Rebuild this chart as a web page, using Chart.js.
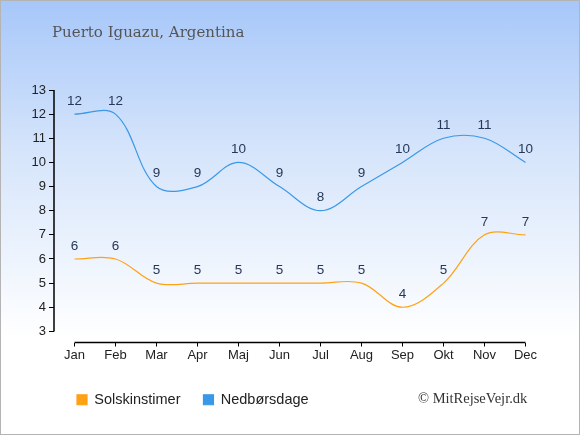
<!DOCTYPE html>
<html>
<head>
<meta charset="utf-8">
<script src="https://cdn.jsdelivr.net/npm/chart.js@4"></script>
<style>
  html, body { margin: 0; padding: 0; }
  #wrap {
    position: relative;
    width: 578px; height: 433px;
    border: 1px solid #b4b4b4;
    background: linear-gradient(to bottom, #a7c7f9 0%, #d6e5fb 35%, #ffffff 78%, #ffffff 100%);
  }
  #title {
    position: absolute; left: 51px; top: 22px;
    font-family: "DejaVu Serif", serif; font-size: 15px; color: #555;
  }
  #copy {
    position: absolute; left: 417px; top: 389px;
    font-family: "Liberation Serif", serif; font-size: 14.5px; color: #333;
  }
  canvas { position: absolute; left: 0; top: 0; }
</style>
</head>
<body>
<div id="wrap">
  <canvas id="myChart" width="578" height="433"></canvas>
  <div id="title">Puerto Iguazu, Argentina</div>
  <div id="copy">© MitRejseVejr.dk</div>
</div>
<script>
"use strict";
const months = ["Jan", "Feb", "Mar", "Apr", "Maj", "Jun", "Jul", "Aug", "Sep", "Okt", "Nov", "Dec"];
const sunHours = [6, 6, 5, 5, 5, 5, 5, 5, 4, 5, 7, 7];
const rainDays = [12, 12, 9, 9, 10, 9, 8, 9, 10, 11, 11, 10];
const yTicks = [3, 4, 5, 6, 7, 8, 9, 10, 11, 12, 13];

const sunColor = "#ffa114";
const rainColor = "#3a98e8";

// axis lines that stop at first/last tick, like the original
const axisLines = {
  id: "axisLines",
  afterDraw(chart) {
    const ctx = chart.ctx;
    const x = chart.scales.x;
    const y = chart.scales.y;
    const area = chart.chartArea;
    ctx.save();
    ctx.strokeStyle = "#000";
    ctx.lineWidth = 1.5;
    ctx.beginPath();
    ctx.moveTo(area.left, y.getPixelForValue(yTicks[0]));
    ctx.lineTo(area.left, y.getPixelForValue(yTicks[yTicks.length - 1]));
    ctx.moveTo(x.getPixelForValue(0), area.bottom);
    ctx.lineTo(x.getPixelForValue(months.length - 1), area.bottom);
    ctx.stroke();
    ctx.restore();
  }
};

// values above each point
const pointLabels = {
  id: "pointLabels",
  afterDatasetsDraw(chart) {
    const ctx = chart.ctx;
    ctx.save();
    ctx.font = "13.5px 'Liberation Sans', Arial";
    ctx.fillStyle = "#263858";
    ctx.textAlign = "center";
    ctx.textBaseline = "middle";
    chart.data.datasets.forEach((ds, i) => {
      chart.getDatasetMeta(i).data.forEach((pt, j) => {
        ctx.fillText(ds.data[j], pt.x, pt.y - 13);
      });
    });
    ctx.restore();
  }
};

let canvas = document.getElementById("myChart");
const ctx = canvas.getContext("2d");

const myChart = new Chart(ctx, {
  type: "line",
  data: {
    labels: months,
    datasets: [{
      label: "Solskinstimer",
      data: sunHours,
      borderColor: sunColor,
      backgroundColor: sunColor,
      borderWidth: 1.2,
      tension: 0.36,
      pointRadius: 0
    }, {
      label: "Nedbørsdage",
      data: rainDays,
      borderColor: rainColor,
      backgroundColor: rainColor,
      borderWidth: 1.2,
      tension: 0.36,
      pointRadius: 0
    }]
  },
  plugins: [axisLines, pointLabels],
  options: {
    responsive: false,
    animation: false,
    layout: { padding: { left: 18, right: 33, top: 89, bottom: 17 } },
    scales: {
      x: {
        offset: true,
        afterFit(scale) { scale.height = 27; },
        border: { display: false },
        grid: { offset: false, drawOnChartArea: false, drawTicks: true, tickLength: 4, color: "#000" },
        ticks: { color: "#222", padding: 1, font: { family: "'Liberation Sans', Arial", size: 13 }, maxRotation: 0 }
      },
      y: {
        min: 2.54,
        max: 13,
        afterFit(scale) { scale.width = 35; },
        afterBuildTicks(scale) { scale.ticks = yTicks.map(v => ({ value: v })); },
        border: { display: false },
        grid: { drawOnChartArea: false, drawTicks: true, tickLength: 5, color: "#000" },
        ticks: { color: "#222", padding: 3, font: { family: "'Liberation Sans', Arial", size: 13 } }
      }
    },
    plugins: {
      tooltip: { enabled: false },
      legend: {
        position: "bottom",
        align: "start",
        fullSize: false,
        labels: {
          boxWidth: 10,
          boxHeight: 10,
          padding: 23,
          color: "#222",
          font: { family: "'Liberation Sans', Arial", size: 14.5 }
        }
      }
    }
  }
});
</script>
</body>
</html>
